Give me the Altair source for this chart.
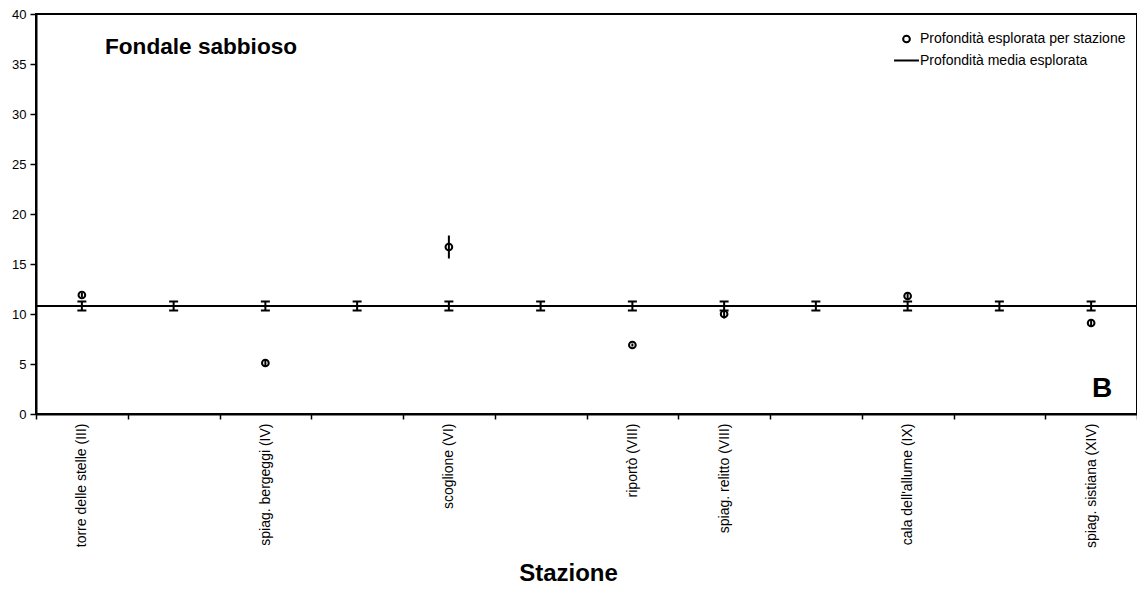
import json
import altair as alt
import pandas as pd

FONT = "Liberation Sans"

stations = [
    "torre delle stelle (III)", "", "spiag. bergeggi (IV)", "", "scoglione (VI)", "",
    "riportò (VIII)", "spiag. relitto (VIII)", "", "cala dell'allume (IX)", "",
    "spiag. sistiana (XIV)",
]
station_depth = [11.9, None, 5.1, None, 16.7, None, 6.9, 10.0, None, 11.8, None, 9.1]
station_err = [0.2, None, 0.35, None, 1.15, None, 0.15, 0.45, None, 0.3, None, 0.3]
mean_depth = [10.8] * 12
mean_err = [0.45] * 12
y_ticks = [0, 5, 10, 15, 20, 25, 30, 35, 40]

S1 = "Profondità esplorata per stazione"
S2 = "Profondità media esplorata"

idx = list(range(len(stations)))
st = pd.DataFrame({"idx": idx, "depth": station_depth, "err": station_err}).dropna()
st["lo"] = st["depth"] - st["err"]
st["hi"] = st["depth"] + st["err"]
st["series"] = S1

mn = pd.DataFrame({"idx": idx, "m": mean_depth, "e": mean_err})
mn["lo"] = mn["m"] - mn["e"]
mn["hi"] = mn["m"] + mn["e"]
mline = pd.DataFrame({"m": [mean_depth[0]]})

W, H = 1101, 400

xaxis = alt.Axis(
    title="Stazione", titleFontSize=24, titleFontWeight="bold", titleFont=FONT,
    titleColor="black", titleBaseline="alphabetic", titleY=166, titleX=532,
    labelAngle=270, labelFontSize=14, labelFont=FONT, labelColor="black",
    labelPadding=4, tickSize=5, tickBand="extent", labelLimit=400,
    labelExpr=json.dumps(stations, ensure_ascii=False) + "[datum.value]",
)
xscale = alt.Scale(type="band", paddingInner=0, paddingOuter=0, domain=idx)
X = alt.X("idx:O", scale=xscale, axis=xaxis)

yaxis = alt.Axis(
    title=None, values=y_ticks, labelFontSize=13, labelFont=FONT, labelColor="black",
    labelPadding=4, tickSize=6, grid=False,
)
yscale = alt.Scale(domain=[0, 40], nice=False, zero=True)


def Y(field):
    return alt.Y(field, type="quantitative", scale=yscale, axis=yaxis)


mean_rule = alt.Chart(mline).mark_rule(color="black", strokeWidth=2).encode(y=Y("m"))
mean_bars = alt.Chart(mn).mark_rule(color="black", strokeWidth=2).encode(
    x=X, y=Y("lo"), y2="hi"
)
mean_cap_lo = alt.Chart(mn).mark_tick(color="black", orient="horizontal", size=9, thickness=2, opacity=1).encode(
    x=X, y=Y("lo")
)
mean_cap_hi = alt.Chart(mn).mark_tick(color="black", orient="horizontal", size=9, thickness=2, opacity=1).encode(
    x=X, y=Y("hi")
)
st_bars = alt.Chart(st).mark_rule(color="black", strokeWidth=2).encode(
    x=X, y=Y("lo"), y2="hi"
)

leg = alt.Legend(
    title=None, orient="none", legendX=857, legendY=18, padding=0,
    labelFont=FONT, labelFontSize=14, labelColor="black", labelOffset=0, labelLimit=400,
    symbolStrokeColor="black", symbolStrokeWidth=2, rowPadding=0,
)
st_points = alt.Chart(st).mark_point(filled=False, color="black", strokeWidth=2, opacity=1).encode(
    x=X,
    y=Y("depth"),
    shape=alt.Shape("series:N", scale=alt.Scale(domain=[S1, S2], range=["circle", "stroke"]), legend=leg),
    size=alt.Size("series:N", scale=alt.Scale(domain=[S1, S2], range=[45, 620]), legend=leg),
)

title_txt = alt.Chart(pd.DataFrame({"t": ["Fondale sabbioso"]})).mark_text(
    align="left", baseline="alphabetic", fontSize=22.6, fontWeight="bold", font=FONT, color="black"
).encode(x=alt.value(69), y=alt.value(40), text="t:N")

b_txt = alt.Chart(pd.DataFrame({"t": ["B"]})).mark_text(
    align="center", baseline="alphabetic", fontSize=28, fontWeight="bold", font=FONT, color="black"
).encode(x=alt.value(1066), y=alt.value(383), text="t:N")

chart = alt.layer(
    mean_rule, mean_bars, mean_cap_lo, mean_cap_hi, st_bars, st_points, title_txt, b_txt
).properties(
    width=W, height=H,
    autosize=alt.AutoSizeParams(type="none"),
    padding={"left": 28, "top": 6, "right": 0, "bottom": 175},
    background="white",
).configure_view(
    stroke="black", strokeWidth=2
).configure_axis(
    domainColor="black", domainWidth=2, tickColor="black", tickWidth=1.5, grid=False
)

chart.save("out.html", embed_options={"renderer": "svg", "actions": False})
